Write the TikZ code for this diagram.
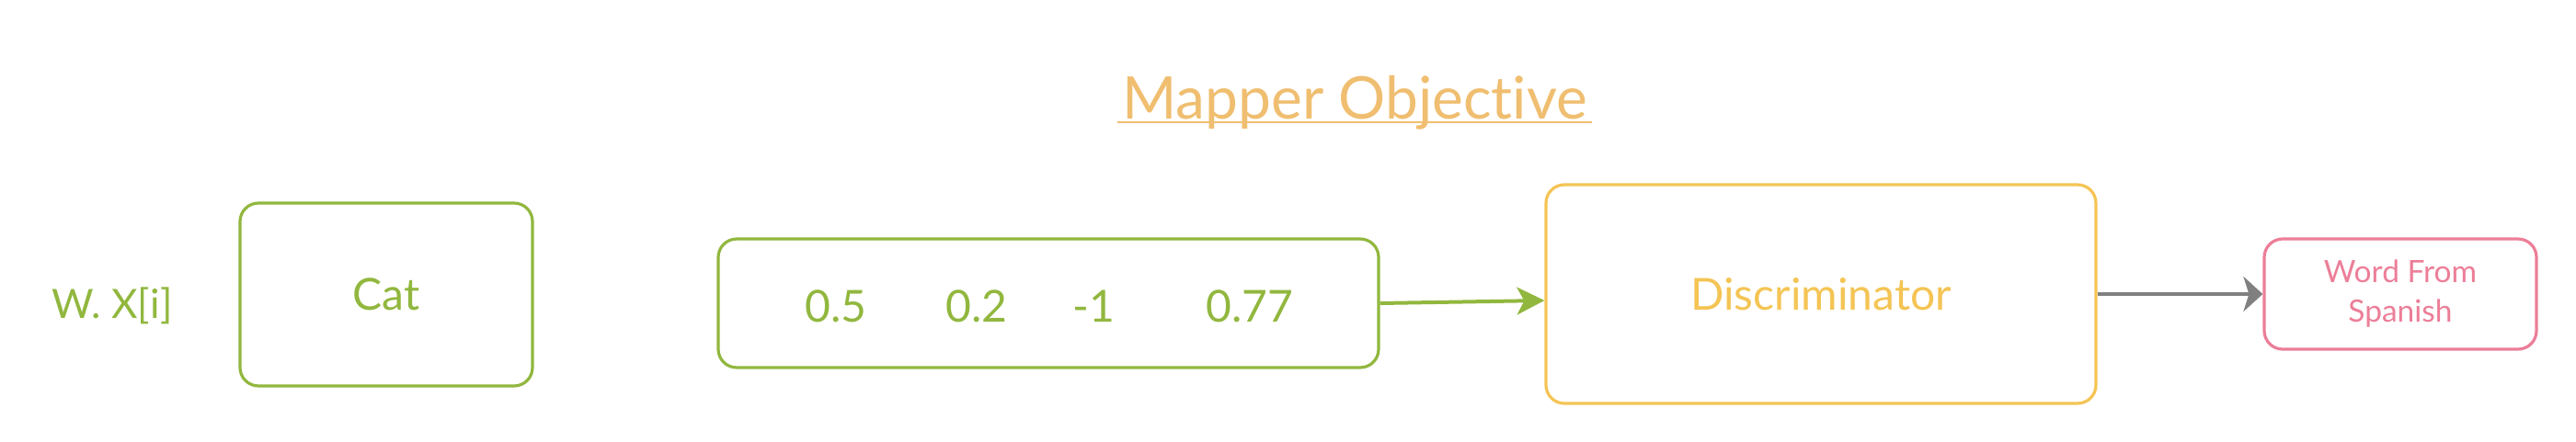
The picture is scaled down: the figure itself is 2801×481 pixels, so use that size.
\documentclass[tikz,border=0pt]{standalone}
\usepackage{fontspec}
\setmainfont{Lato}[Ligatures={NoCommon,NoRare,NoDiscretionary}]
\usepackage{xcolor}
\definecolor{leafgreen}{RGB}{145,183,62}
\definecolor{sunyellow}{RGB}{244,196,84}
\definecolor{titleorange}{RGB}{240,190,112}
\definecolor{rosepink}{RGB}{236,126,152}
\definecolor{arrowgrey}{RGB}{128,128,128}
\usetikzlibrary{arrows.meta, positioning}

\begin{document}
\begin{tikzpicture}[x=0.5pt, y=-0.5pt,
    box/.style={draw, line width=1.6pt, rounded corners=10pt, inner sep=0pt, font=\fontsize{24}{29}\selectfont},
    numtext/.style={font=\fontsize{24}{29}\selectfont, inner sep=0pt, anchor=base}]
    \useasboundingbox (0,0) rectangle (2801,481);

    \node[numtext, titleorange, font=\fontsize{32}{38}\selectfont, inner xsep=2.5pt] (ttl) at (1473,130) {Mapper Objective};
    \draw[titleorange, line width=1pt] ([yshift=-1.5pt]ttl.base west) -- ([yshift=-1.5pt]ttl.base east);

    \node[numtext, leafgreen, font=\fontsize{22}{27}\selectfont] (wx) at (122,346) {W. X[i]};
    \node[box, leafgreen, minimum width=159pt, minimum height=99.5pt] (cat) at (420,320.5) {Cat};
    \node[box, leafgreen, minimum width=359pt, minimum height=70pt] (vec) at (1140,330) {};
    \foreach \val/\xpos [count=\i] in {0.5/909, 0.2/1062, -1/1189, 0.77/1359}
        \node[numtext, leafgreen] (num\i) at (\xpos,350) {\val};

    \node[box, sunyellow, minimum width=299pt, minimum height=119pt] (disc) at (1980,320) {Discriminator};
    \node[box, rosepink, minimum width=148pt, minimum height=60pt, align=center,
          font=\fontsize{16.75}{21.5}\selectfont] (word) at (2610,320) {Word From\\Spanish};

    \draw[leafgreen, line width=2pt, -{Stealth[length=15pt, width=15pt, inset=4pt]}] (vec.east) -- ([yshift=-3.5pt]disc.west);
    \draw[arrowgrey, line width=2pt, -{Stealth[length=10.5pt, width=19pt, inset=3pt]}] (disc.east) -- (word.west);
\end{tikzpicture}
\end{document}
